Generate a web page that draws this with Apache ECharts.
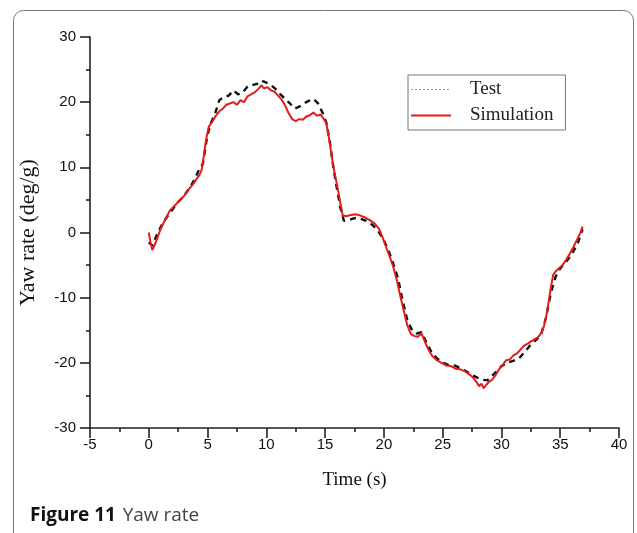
<!DOCTYPE html>
<html>
<head>
<meta charset="utf-8">
<script src="https://cdn.jsdelivr.net/npm/echarts@6/dist/echarts.min.js"></script>
<style>
  html, body { margin: 0; padding: 0; background: #fff; }
  #chart { width: 637px; height: 533px; }
</style>
</head>
<body>
<div id="chart"></div>
<script>
// ====== data: [time (s), yaw rate (deg/g)] ======
var xTicks = [-5, 40, 5];   // min, max, step
var yTicks = [-30, 30, 10];

var testData = [
    [0, -1.5], [0.3, -2.0], [0.7, -0.3], [1.2, 1.5], [1.8, 3.0], [2.4, 4.5], [3.0, 5.6], [3.6, 7.2],
    [4.0, 8.5], [4.3, 9.8], [4.6, 10.5], [4.9, 14.0], [5.2, 16.5], [5.6, 18.0], [6.0, 20.3], [6.4, 20.8],
    [6.8, 21.0], [7.2, 21.8], [7.6, 21.2], [8.0, 21.5], [8.4, 22.4], [8.8, 22.6], [9.2, 22.8], [9.6, 23.3],
    [10.0, 23.0], [10.4, 22.6], [10.8, 22.0], [11.2, 21.2], [11.6, 20.5], [12.0, 19.8], [12.4, 19.0], [12.8, 19.3],
    [13.2, 19.8], [13.6, 20.2], [14.0, 20.5], [14.4, 19.8], [14.8, 18.3], [15.1, 16.9], [15.4, 14.0], [15.7, 10.0],
    [16.0, 6.8], [16.3, 3.8], [16.6, 1.8], [17.0, 1.9], [17.5, 2.2], [18.0, 2.1], [18.5, 1.8], [19.0, 1.2],
    [19.5, 0.3], [20.0, -1.2], [20.4, -2.8], [20.8, -4.8], [21.2, -7.0], [21.6, -10.5], [22.0, -13.5], [22.4, -15.0],
    [22.8, -15.5], [23.2, -15.3], [23.6, -16.8], [24.0, -18.2], [24.5, -19.3], [25.0, -20.0], [25.5, -20.3], [26.0, -20.4],
    [26.5, -20.8], [27.0, -21.3], [27.5, -21.9], [28.0, -22.3], [28.4, -22.6], [28.8, -22.7], [29.2, -22.0], [29.6, -21.3],
    [30.0, -20.5], [30.5, -20.0], [31.0, -19.7], [31.5, -19.3], [32.0, -18.3], [32.5, -17.2], [33.0, -16.4], [33.4, -15.5],
    [33.8, -13.0], [34.2, -9.3], [34.6, -6.8], [35.0, -5.5], [35.5, -4.5], [36.0, -3.3], [36.5, -1.6], [36.9, 0.5]
];

var simData = [
    [0, 0], [0.15, -1.5], [0.3, -2.7], [0.6, -1.5], [1.0, 0.5], [1.4, 2.0], [1.8, 3.4], [2.2, 4.1],
    [2.6, 4.9], [3.0, 5.6], [3.4, 6.6], [3.8, 7.5], [4.1, 8.3], [4.3, 8.8], [4.5, 9.6], [4.7, 12.0],
    [4.9, 14.5], [5.1, 16.2], [5.4, 17.0], [5.7, 17.9], [6.0, 18.6], [6.3, 19.0], [6.6, 19.6], [6.9, 19.8],
    [7.2, 20.0], [7.5, 19.6], [7.8, 20.3], [8.1, 20.0], [8.4, 20.9], [8.7, 21.2], [9.0, 21.5], [9.3, 22.0],
    [9.6, 22.6], [9.8, 22.1], [10.1, 22.3], [10.4, 21.8], [10.7, 21.6], [11.0, 21.0], [11.3, 20.4], [11.6, 19.5],
    [11.9, 18.3], [12.2, 17.4], [12.5, 17.1], [12.8, 17.4], [13.1, 17.3], [13.4, 17.8], [13.7, 18.0], [14.0, 18.4],
    [14.3, 17.9], [14.6, 18.1], [14.9, 17.4], [15.1, 16.8], [15.3, 14.8], [15.5, 12.5], [15.7, 10.2], [15.9, 8.3],
    [16.1, 6.5], [16.3, 4.5], [16.5, 2.6], [16.8, 2.5], [17.2, 2.7], [17.6, 2.8], [18.0, 2.6], [18.4, 2.3],
    [18.8, 1.9], [19.2, 1.4], [19.6, 0.5], [19.9, -0.8], [20.2, -2.3], [20.5, -3.7], [20.8, -5.3], [21.1, -7.3],
    [21.4, -9.8], [21.7, -12.1], [22.0, -14.3], [22.3, -15.6], [22.6, -15.9], [22.9, -16.0], [23.2, -15.5], [23.5, -16.8],
    [23.8, -18.0], [24.1, -18.9], [24.5, -19.6], [24.9, -20.0], [25.3, -20.4], [25.7, -20.5], [26.1, -20.9], [26.5, -21.0],
    [26.9, -21.3], [27.3, -21.8], [27.6, -22.3], [27.9, -23.0], [28.1, -23.6], [28.3, -23.2], [28.5, -23.9], [28.7, -23.4],
    [28.9, -23.0], [29.2, -22.6], [29.5, -21.9], [29.8, -21.0], [30.1, -20.3], [30.4, -19.6], [30.7, -19.5], [31.0, -18.9],
    [31.3, -18.6], [31.6, -18.0], [31.9, -17.4], [32.2, -17.1], [32.5, -16.7], [32.8, -16.4], [33.1, -16.1], [33.4, -15.4],
    [33.6, -14.5], [33.8, -13.0], [34.0, -10.8], [34.2, -8.5], [34.4, -6.5], [34.6, -6.0], [34.9, -5.5], [35.2, -5.0],
    [35.5, -4.2], [35.8, -3.3], [36.1, -2.3], [36.4, -1.2], [36.7, -0.1], [36.9, 0.9]
];

var chart = echarts.init(document.getElementById('chart'));

var axisCommon = {
    axisLine: { show: true, onZero: false, lineStyle: { color: '#222', width: 1.6 } },
    axisTick: { show: true, length: 10, lineStyle: { color: '#222', width: 1.6 } },
    minorTick: { show: true, splitNumber: 2, length: 4, lineStyle: { color: '#222', width: 1.6 } },
    splitLine: { show: false },
    axisLabel: { color: '#111', fontSize: 15, fontFamily: 'Liberation Sans' }
};

var option = {
    backgroundColor: '#fff',
    animation: false,
    grid: { left: 90, right: 18, top: 37, bottom: 105 },
    legend: {
        orient: 'vertical',
        left: 408,
        top: 75,
        padding: [5, 12, 5, 2],
        itemGap: 7,
        itemWidth: 40,
        itemHeight: 14,
        borderColor: '#777',
        borderWidth: 1,
        textStyle: { fontFamily: 'Liberation Serif', fontSize: 19, color: '#222', padding: [0, 0, 0, 14] },
        data: [
            { name: 'Test', itemStyle: { opacity: 0 }, lineStyle: { color: '#999', type: [2, 2], width: 1 } },
            { name: 'Simulation', itemStyle: { opacity: 0 } }
        ]
    },
    xAxis: Object.assign({}, axisCommon, {
        type: 'value',
        min: xTicks[0],
        max: xTicks[1],
        interval: xTicks[2],
        name: 'Time (s)',
        nameLocation: 'middle',
        nameGap: 43,
        nameTextStyle: { fontFamily: 'Liberation Serif', fontSize: 19, color: '#111' },
        axisLabel: Object.assign({}, axisCommon.axisLabel, { margin: 9 })
    }),
    yAxis: Object.assign({}, axisCommon, {
        type: 'value',
        min: yTicks[0],
        max: yTicks[1],
        interval: yTicks[2],
        name: 'Yaw rate (deg/g)',
        nameLocation: 'middle',
        nameGap: 51,
        nameTextStyle: { fontFamily: 'Liberation Serif', fontSize: 22, color: '#111' },
        axisLabel: Object.assign({}, axisCommon.axisLabel, { margin: 14 })
    }),
    series: [
        {
            name: 'Test',
            type: 'line',
            symbol: 'none',
            data: testData,
            lineStyle: { color: '#111', width: 2.4, type: [6, 5] },
            itemStyle: { color: '#111' },
            z: 2
        },
        {
            name: 'Simulation',
            type: 'line',
            symbol: 'none',
            data: simData,
            lineStyle: { color: '#e31b1b', width: 2 },
            itemStyle: { color: '#e31b1b' },
            z: 3
        }
    ],
    graphic: [
        {
            type: 'rect',
            shape: { x: 13.5, y: 10.5, width: 620, height: 545, r: 10 },
            style: { fill: 'none', stroke: '#777', lineWidth: 1 },
            silent: true
        },
        {
            type: 'text',
            left: 30,
            top: 506,
            style: {
                text: '{b|Figure 11}  {n|Yaw rate}',
                rich: {
                    b: { fontFamily: 'Open Sans', fontWeight: 'bold', fontSize: 19, fill: '#111' },
                    n: { fontFamily: 'Open Sans', fontSize: 19, fill: '#444' }
                }
            }
        }
    ]
};

chart.setOption(option);
</script>
</body>
</html>
